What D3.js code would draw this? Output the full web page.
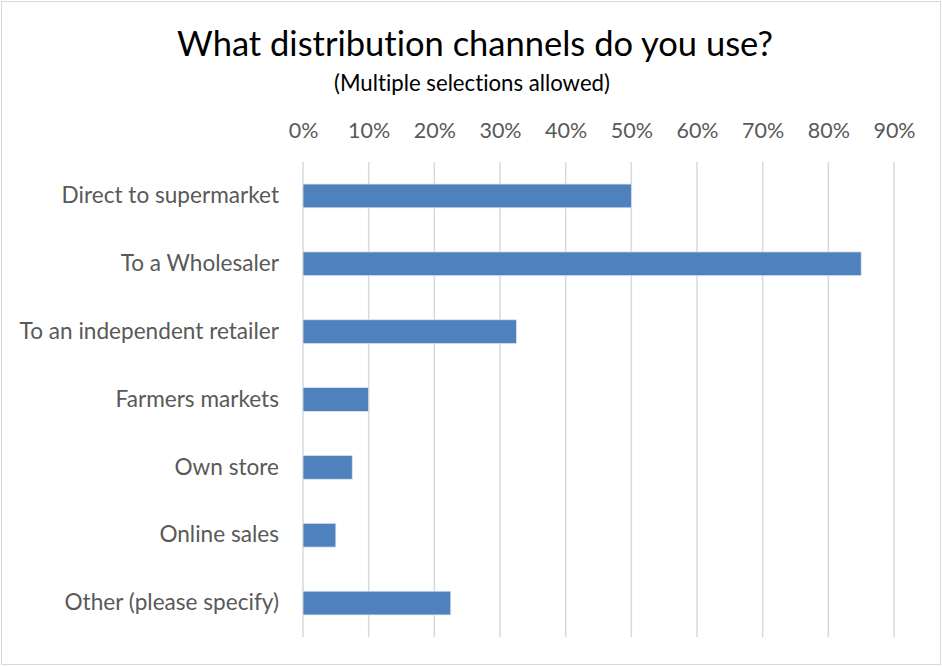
<!DOCTYPE html>
<html>
<head>
<meta charset="utf-8">
<script src="https://cdn.jsdelivr.net/npm/d3@7"></script>
<style>
  html, body { margin: 0; padding: 0; background: #fff; }
  svg text {
    font-family: Lato, "Open Sans", sans-serif;
    font-variant-ligatures: none;
    font-feature-settings: "liga" 0, "clig" 0;
  }
</style>
</head>
<body>
<svg id="chart" width="942" height="666"></svg>
<script>
// Survey answers: share of respondents using each distribution channel
const categories = [
  "Direct to supermarket",
  "To a Wholesaler",
  "To an independent retailer",
  "Farmers markets",
  "Own store",
  "Online sales",
  "Other (please specify)"
];
const shares = [0.50, 0.85, 0.325, 0.10, 0.075, 0.05, 0.225];
const tickValues = [0, 0.1, 0.2, 0.3, 0.4, 0.5, 0.6, 0.7, 0.8, 0.9];

const W = 942, H = 666;
const margin = { top: 162, right: 48, bottom: 29, left: 303 };
const svg = d3.select("#chart");

// outer frame
svg.append("rect")
  .attr("x", 1.5).attr("y", 1.5)
  .attr("width", W - 3).attr("height", H - 3)
  .attr("fill", "#fff").attr("stroke", "#d9d9d9").attr("stroke-width", 1);

const x = d3.scaleLinear().domain([0, 0.9]).range([margin.left, W - margin.right]);
const y = d3.scaleBand().domain(categories)
  .range([margin.top, H - margin.bottom])
  .paddingInner(0.65).paddingOuter(0.325);

// vertical gridlines
svg.append("g").selectAll("line").data(tickValues).join("line")
  .attr("x1", d => x(d)).attr("x2", d => x(d))
  .attr("y1", margin.top).attr("y2", H - margin.bottom)
  .attr("stroke", "#d9d9d9").attr("stroke-width", 1.5);

// top axis labels
const xAxis = d3.axisTop(x).tickValues(tickValues)
  .tickFormat(d3.format(".0%")).tickSize(0).tickPadding(0);
const gx = svg.append("g").attr("transform", `translate(0,${138})`).call(xAxis);
gx.select(".domain").remove();
gx.selectAll("text").attr("fill", "#595959").style("font-size", "21.5px")
  .attr("dy", 0);

// category labels
const yAxis = d3.axisLeft(y).tickSize(0).tickPadding(24);
const gy = svg.append("g").attr("transform", `translate(${margin.left},0)`).call(yAxis);
gy.select(".domain").remove();
gy.selectAll("text").attr("fill", "#595959").style("font-size", "22.6px");

// bars
svg.append("g").selectAll("rect").data(categories).join("rect")
  .attr("x", x(0))
  .attr("y", d => y(d))
  .attr("width", (d, i) => x(shares[i]) - x(0))
  .attr("height", y.bandwidth())
  .attr("fill", "#4f81bd")
  .attr("stroke", "#dbe5f1").attr("stroke-width", 0.75);

// titles
svg.append("text").attr("x", 475).attr("y", 56)
  .attr("text-anchor", "middle").attr("fill", "#000")
  .style("font-size", "34.5px")
  .text("What distribution channels do you use?");
svg.append("text").attr("x", 472).attr("y", 91)
  .attr("text-anchor", "middle").attr("fill", "#000")
  .style("font-size", "22.2px")
  .text("(Multiple selections allowed)");
</script>
</body>
</html>
